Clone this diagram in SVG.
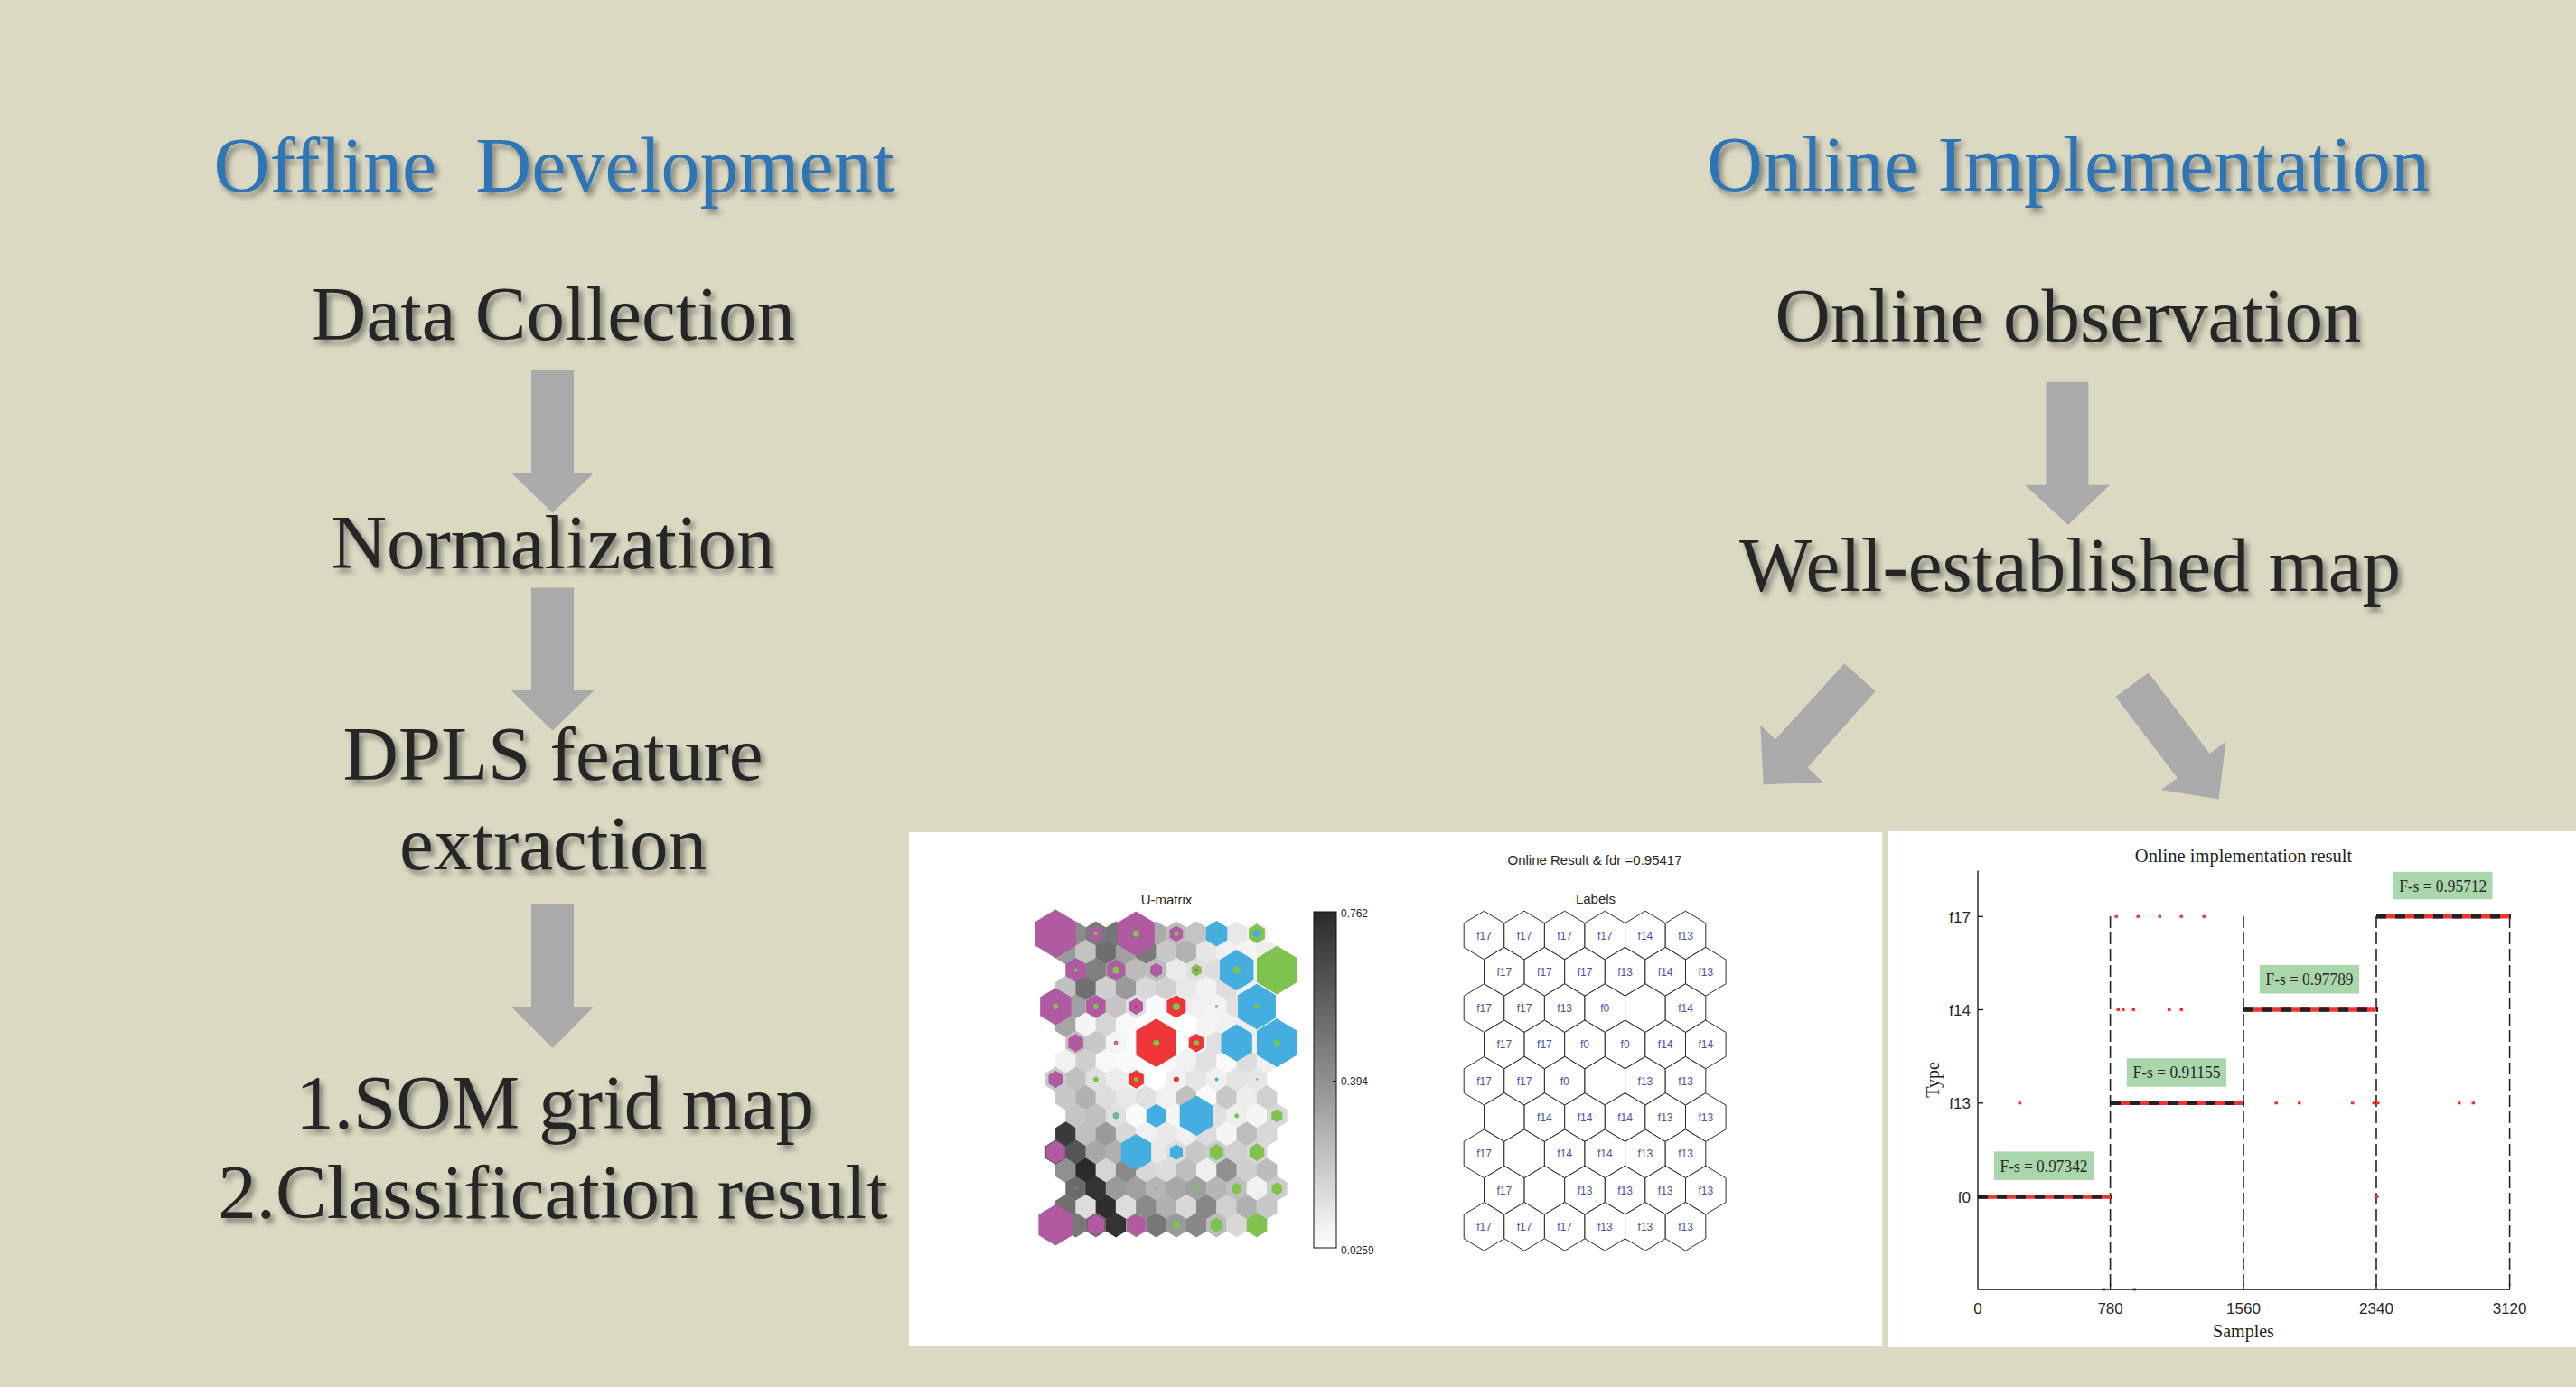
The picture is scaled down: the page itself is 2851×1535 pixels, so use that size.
<svg xmlns="http://www.w3.org/2000/svg" xmlns:xlink="http://www.w3.org/1999/xlink" width="2851" height="1535" viewBox="0 0 2851 1535">
<style>
.bg{fill:#DCD9C3}
.big{font-family:"Liberation Serif","Times New Roman",serif;font-size:85px;fill:#262626;text-anchor:middle}
.ttl{font-family:"Liberation Serif","Times New Roman",serif;font-size:86px;fill:#2E75B6;text-anchor:middle;white-space:pre}
.arr{fill:#AAAAAA}
.mg{fill:#B05AA2}.gn{fill:#80C24E}.bl{fill:#44AEE1}.rd{fill:#EE3537}
.sans{font-family:"Liberation Sans",Arial,sans-serif;fill:#262626}
.serif{font-family:"Liberation Serif","Times New Roman",serif;fill:#1e1e1e}
.hexL{fill:#fff;stroke:#2a2a2a;stroke-width:1}
.lab{font-family:"Liberation Sans",Arial,sans-serif;font-size:12px;fill:#4B50A8;text-anchor:middle}
.box{fill:#A9D6AA}
.fs{font-family:"Liberation Serif","Times New Roman",serif;font-size:18px;fill:#2a2a2a;text-anchor:middle}
.rdot{fill:#FF2A2A}
</style>
<defs>
<filter id="sh" x="-5%" y="-30%" width="115%" height="170%">
<feGaussianBlur in="SourceAlpha" stdDeviation="3"/>
<feOffset dx="4" dy="5" result="b"/>
<feFlood flood-color="#000" flood-opacity="0.42"/>
<feComposite in2="b" operator="in"/>
<feMerge><feMergeNode/><feMergeNode in="SourceGraphic"/></feMerge>
</filter>
<polygon id="u" points="0,-13.7 11.35,-6.8 11.35,6.8 0,13.7 -11.35,6.8 -11.35,-6.8"/>
<polygon id="m" points="0,-26.85 22.3,-13.4 22.3,13.4 0,26.85 -22.3,13.4 -22.3,-13.4"/>
<polygon id="L" points="0,-26.8 22.3,-13.4 22.3,13.4 0,26.8 -22.3,13.4 -22.3,-13.4"/>
<linearGradient id="cb" x1="0" y1="0" x2="0" y2="1">
<stop offset="0" stop-color="#2b2b2b"/><stop offset="0.5" stop-color="#8f8f8f"/><stop offset="1" stop-color="#ffffff"/>
</linearGradient>
</defs>
<rect class="bg" x="0" y="0" width="2851" height="1535"/>

<g id="title-offline" filter="url(#sh)"><text class="ttl" x="613" y="212">Offline  Development</text></g>
<g id="title-online" filter="url(#sh)"><text class="ttl" x="2289" y="211">Online Implementation</text></g>

<g id="node-data-collection" filter="url(#sh)"><text class="big" x="612" y="376">Data Collection</text></g>
<g id="node-normalization" filter="url(#sh)"><text class="big" x="612" y="629">Normalization</text></g>
<g id="node-dpls" filter="url(#sh)"><text class="big" x="612" y="863">DPLS feature</text><text class="big" x="612" y="962">extraction</text></g>
<g id="node-som-result" filter="url(#sh)"><text class="big" x="614" y="1249">1.SOM grid map</text><text class="big" x="612" y="1348">2.Classification result</text></g>
<g id="node-online-observation" filter="url(#sh)"><text class="big" x="2289" y="378">Online observation</text></g>
<g id="node-well-established-map" filter="url(#sh)"><text class="big" x="2291" y="654">Well-established map</text></g>

<g id="connectors">
<polygon class="arr" points="588,409 635,409 635,523 657.5,523 611.6,567.7 565.7,523 588,523"/>
<polygon class="arr" points="588,650.4 635,650.4 635,764 657.5,764 611.6,808.8 565.7,764 588,764"/>
<polygon class="arr" points="588,1001 635,1001 635,1114 657.5,1114 611.6,1160 565.7,1114 588,1114"/>
<polygon class="arr" points="2264.5,422.7 2311.4,422.7 2311.4,536.7 2335,536.7 2289,581 2241,536.7 2264.5,536.7"/>
<polygon class="arr" points="2041.3,734.3 2075.7,765 2000.7,849.3 2017.7,865.7 1951.7,868.3 1948.3,802.7 1965,818.3"/>
<polygon class="arr" points="2377.8,744.4 2445.6,833.9 2463.5,820.7 2455.5,884.5 2391.8,874 2409.8,860.9 2341.6,771"/>
</g>

<g id="node-panel-som">
<rect x="1006" y="921" width="1077.3" height="569" fill="#fff"/>
<text class="sans" x="1765" y="957" font-size="15" text-anchor="middle">Online Result &amp; fdr =0.95417</text>
<text class="sans" x="1291" y="1000.6" font-size="15" text-anchor="middle">U-matrix</text>
<text class="sans" x="1766" y="999.5" font-size="15" text-anchor="middle">Labels</text>
<g id="umatrix">
<g transform="translate(0,1033.3)"><use href="#u" x="1168.3" fill="#8c8c8c"/><use href="#u" x="1190.6" fill="#8a8a8a"/><use href="#u" x="1212.8" fill="#7a7a7a"/><use href="#u" x="1235.1" fill="#767676"/><use href="#u" x="1257.4" fill="#999"/><use href="#u" x="1279.7" fill="#ababab"/><use href="#u" x="1301.9" fill="#bdbdbd"/><use href="#u" x="1324.2" fill="#c4c4c4"/><use href="#u" x="1346.5" fill="#d8d8d8"/><use href="#u" x="1368.7" fill="#e8e8e8"/><use href="#u" x="1391" fill="#eee"/></g>
<g transform="translate(0,1053.5)"><use href="#u" x="1179.4" fill="#999"/><use href="#u" x="1201.7" fill="#c2c2c2"/><use href="#u" x="1224" fill="#6e6e6e"/><use href="#u" x="1246.2" fill="#a0a0a0"/><use href="#u" x="1268.5" fill="#7a7a7a"/><use href="#u" x="1290.8" fill="#c8c8c8"/><use href="#u" x="1313.1" fill="#b2b2b2"/><use href="#u" x="1335.3" fill="#e6e6e6"/><use href="#u" x="1357.6" fill="#f0f0f0"/><use href="#u" x="1379.9" fill="#f4f4f4"/><use href="#u" x="1402.1" fill="#eee"/></g>
<g transform="translate(0,1073.6)"><use href="#u" x="1190.6" fill="#888"/><use href="#u" x="1212.8" fill="#808080"/><use href="#u" x="1235.1" fill="#999"/><use href="#u" x="1257.4" fill="#bbb"/><use href="#u" x="1279.7" fill="#bdbdbd"/><use href="#u" x="1301.9" fill="#eaeaea"/><use href="#u" x="1324.2" fill="#e0e0e0"/><use href="#u" x="1346.5" fill="#ddd"/><use href="#u" x="1368.7" fill="#e8e8e8"/><use href="#u" x="1391" fill="#f0f0f0"/><use href="#u" x="1413.3" fill="#e0e0e0"/></g>
<g transform="translate(0,1093.8)"><use href="#u" x="1179.4" fill="#c0c0c0"/><use href="#u" x="1201.7" fill="#707070"/><use href="#u" x="1224" fill="#cfcfcf"/><use href="#u" x="1246.2" fill="#9a9a9a"/><use href="#u" x="1268.5" fill="#d8d8d8"/><use href="#u" x="1290.8" fill="#d0d0d0"/><use href="#u" x="1313.1" fill="#e8e8e8"/><use href="#u" x="1335.3" fill="#f2f2f2"/><use href="#u" x="1357.6" fill="#ddd"/><use href="#u" x="1379.9" fill="#f0f0f0"/><use href="#u" x="1402.1" fill="#eee"/></g>
<g transform="translate(0,1113.9)"><use href="#u" x="1168.3" fill="#aaa"/><use href="#u" x="1190.6" fill="#a0a0a0"/><use href="#u" x="1212.8" fill="#bbb"/><use href="#u" x="1235.1" fill="#c5c5c5"/><use href="#u" x="1257.4" fill="#e0e0e0"/><use href="#u" x="1279.7" fill="#fafafa"/><use href="#u" x="1301.9" fill="#f5f5f5"/><use href="#u" x="1324.2" fill="#f0f0f0"/><use href="#u" x="1346.5" fill="#f2f2f2"/><use href="#u" x="1368.7" fill="#e0e0e0"/><use href="#u" x="1391" fill="#e8e8e8"/></g>
<g transform="translate(0,1134.1)"><use href="#u" x="1179.4" fill="#a5a5a5"/><use href="#u" x="1201.7" fill="#f5f5f5"/><use href="#u" x="1224" fill="#d5d5d5"/><use href="#u" x="1246.2" fill="#f8f8f8"/><use href="#u" x="1268.5" fill="#fff"/><use href="#u" x="1290.8" fill="#fcfcfc"/><use href="#u" x="1313.1" fill="#fff"/><use href="#u" x="1335.3" fill="#f5f5f5"/><use href="#u" x="1357.6" fill="#f0f0f0"/><use href="#u" x="1379.9" fill="#eee"/><use href="#u" x="1402.1" fill="#e8e8e8"/></g>
<g transform="translate(0,1154.2)"><use href="#u" x="1190.6" fill="#c0c0c0"/><use href="#u" x="1212.8" fill="#c8c8c8"/><use href="#u" x="1235.1" fill="#f5f5f5"/><use href="#u" x="1257.4" fill="#fafafa"/><use href="#u" x="1279.7" fill="#fff"/><use href="#u" x="1301.9" fill="#fff"/><use href="#u" x="1324.2" fill="#f5f5f5"/><use href="#u" x="1346.5" fill="#e0e0e0"/><use href="#u" x="1368.7" fill="#e8e8e8"/><use href="#u" x="1391" fill="#f0f0f0"/><use href="#u" x="1413.3" fill="#e8e8e8"/></g>
<g transform="translate(0,1174.4)"><use href="#u" x="1179.4" fill="#f0f0f0"/><use href="#u" x="1201.7" fill="#cfcfcf"/><use href="#u" x="1224" fill="#f8f8f8"/><use href="#u" x="1246.2" fill="#fafafa"/><use href="#u" x="1268.5" fill="#fff"/><use href="#u" x="1290.8" fill="#fafafa"/><use href="#u" x="1313.1" fill="#f0f0f0"/><use href="#u" x="1335.3" fill="#e0e0e0"/><use href="#u" x="1357.6" fill="#fafafa"/><use href="#u" x="1379.9" fill="#dcdcdc"/><use href="#u" x="1402.1" fill="#f0f0f0"/></g>
<g transform="translate(0,1194.5)"><use href="#u" x="1168.3" fill="#c8c8c8"/><use href="#u" x="1190.6" fill="#c0c0c0"/><use href="#u" x="1212.8" fill="#e0e0e0"/><use href="#u" x="1235.1" fill="#ececec"/><use href="#u" x="1257.4" fill="#f0f0f0"/><use href="#u" x="1279.7" fill="#fff"/><use href="#u" x="1301.9" fill="#f0f0f0"/><use href="#u" x="1324.2" fill="#e5e5e5"/><use href="#u" x="1346.5" fill="#f0f0f0"/><use href="#u" x="1368.7" fill="#e3e3e3"/><use href="#u" x="1391" fill="#e6e6e6"/></g>
<g transform="translate(0,1214.7)"><use href="#u" x="1179.4" fill="#c8c8c8"/><use href="#u" x="1201.7" fill="#b0b0b0"/><use href="#u" x="1224" fill="#dcdcdc"/><use href="#u" x="1246.2" fill="#e8e8e8"/><use href="#u" x="1268.5" fill="#e0e0e0"/><use href="#u" x="1290.8" fill="#f0f0f0"/><use href="#u" x="1313.1" fill="#c0c0c0"/><use href="#u" x="1335.3" fill="#fafafa"/><use href="#u" x="1357.6" fill="#c8c8c8"/><use href="#u" x="1379.9" fill="#eee"/><use href="#u" x="1402.1" fill="#d0d0d0"/></g>
<g transform="translate(0,1234.8)"><use href="#u" x="1190.6" fill="#c5c5c5"/><use href="#u" x="1212.8" fill="#c0c0c0"/><use href="#u" x="1235.1" fill="#e0e0e0"/><use href="#u" x="1257.4" fill="#fafafa"/><use href="#u" x="1279.7" fill="#f0f0f0"/><use href="#u" x="1301.9" fill="#f5f5f5"/><use href="#u" x="1324.2" fill="#e8e8e8"/><use href="#u" x="1346.5" fill="#e0e0e0"/><use href="#u" x="1368.7" fill="#eee"/><use href="#u" x="1391" fill="#f5f5f5"/><use href="#u" x="1413.3" fill="#d8d8d8"/></g>
<g transform="translate(0,1255)"><use href="#u" x="1179.4" fill="#3a3a3a"/><use href="#u" x="1201.7" fill="#c0c0c0"/><use href="#u" x="1224" fill="#9a9a9a"/><use href="#u" x="1246.2" fill="#d8d8d8"/><use href="#u" x="1268.5" fill="#f0f0f0"/><use href="#u" x="1290.8" fill="#e8e8e8"/><use href="#u" x="1313.1" fill="#f0f0f0"/><use href="#u" x="1335.3" fill="#dcdcdc"/><use href="#u" x="1357.6" fill="#f5f5f5"/><use href="#u" x="1379.9" fill="#bdbdbd"/><use href="#u" x="1402.1" fill="#d8d8d8"/></g>
<g transform="translate(0,1275.1)"><use href="#u" x="1168.3" fill="#888"/><use href="#u" x="1190.6" fill="#555"/><use href="#u" x="1212.8" fill="#a8a8a8"/><use href="#u" x="1235.1" fill="#b0b0b0"/><use href="#u" x="1257.4" fill="#d0d0d0"/><use href="#u" x="1279.7" fill="#e8e8e8"/><use href="#u" x="1301.9" fill="#ddd"/><use href="#u" x="1324.2" fill="#c8c8c8"/><use href="#u" x="1346.5" fill="#ccc"/><use href="#u" x="1368.7" fill="#d0d0d0"/><use href="#u" x="1391" fill="#d8d8d8"/></g>
<g transform="translate(0,1295.3)"><use href="#u" x="1179.4" fill="#909090"/><use href="#u" x="1201.7" fill="#2a2a2a"/><use href="#u" x="1224" fill="#d5d5d5"/><use href="#u" x="1246.2" fill="#8a8a8a"/><use href="#u" x="1268.5" fill="#d8d8d8"/><use href="#u" x="1290.8" fill="#ddd"/><use href="#u" x="1313.1" fill="#bdbdbd"/><use href="#u" x="1335.3" fill="#efefef"/><use href="#u" x="1357.6" fill="#909090"/><use href="#u" x="1379.9" fill="#cfcfcf"/><use href="#u" x="1402.1" fill="#bcbcbc"/></g>
<g transform="translate(0,1315.4)"><use href="#u" x="1190.6" fill="#6a6a6a"/><use href="#u" x="1212.8" fill="#333"/><use href="#u" x="1235.1" fill="#9a9a9a"/><use href="#u" x="1257.4" fill="#a0a0a0"/><use href="#u" x="1279.7" fill="#b5b5b5"/><use href="#u" x="1301.9" fill="#a8a8a8"/><use href="#u" x="1324.2" fill="#a0a0a0"/><use href="#u" x="1346.5" fill="#b5b5b5"/><use href="#u" x="1368.7" fill="#c0c0c0"/><use href="#u" x="1391" fill="#f0f0f0"/><use href="#u" x="1413.3" fill="#ccc"/></g>
<g transform="translate(0,1335.6)"><use href="#u" x="1179.4" fill="#707070"/><use href="#u" x="1201.7" fill="#dcdcdc"/><use href="#u" x="1224" fill="#2e2e2e"/><use href="#u" x="1246.2" fill="#dcdcdc"/><use href="#u" x="1268.5" fill="#8a8a8a"/><use href="#u" x="1290.8" fill="#b0b0b0"/><use href="#u" x="1313.1" fill="#d8d8d8"/><use href="#u" x="1335.3" fill="#888"/><use href="#u" x="1357.6" fill="#d0d0d0"/><use href="#u" x="1379.9" fill="#b0b0b0"/><use href="#u" x="1402.1" fill="#c8c8c8"/></g>
<g transform="translate(0,1355.7)"><use href="#u" x="1168.3" fill="#888"/><use href="#u" x="1190.6" fill="#777"/><use href="#u" x="1212.8" fill="#888"/><use href="#u" x="1235.1" fill="#333"/><use href="#u" x="1257.4" fill="#999"/><use href="#u" x="1279.7" fill="#777"/><use href="#u" x="1301.9" fill="#9a9a9a"/><use href="#u" x="1324.2" fill="#888"/><use href="#u" x="1346.5" fill="#bbb"/><use href="#u" x="1368.7" fill="#d8d8d8"/><use href="#u" x="1391" fill="#ccc"/></g>
</g>
<g id="umatrix-markers">
<use href="#m" class="mg" transform="translate(1168.3,1033.3)"/>
<use href="#m" class="mg" transform="translate(1212.8,1033.3) scale(0.33)"/><circle class="gn" cx="1212.8" cy="1033.3" r="2"/>
<use href="#m" class="mg" transform="translate(1257.4,1033.3) scale(0.92)"/><circle class="gn" cx="1257.4" cy="1033.3" r="3.5"/>
<use href="#m" class="mg" transform="translate(1301.9,1033.3) scale(0.33)"/><circle class="gn" cx="1301.9" cy="1033.3" r="2.5"/>
<use href="#m" class="bl" transform="translate(1346.5,1033.3) scale(0.53)"/><circle class="gn" cx="1346.5" cy="1033.3" r="1.2"/>
<use href="#m" class="gn" transform="translate(1391,1033.3) scale(0.4)"/><circle class="bl" cx="1391" cy="1033.3" r="4"/>
<use href="#m" class="mg" transform="translate(1190.6,1073.6) scale(0.49)"/><circle class="gn" cx="1190.6" cy="1073.6" r="2"/>
<use href="#m" class="mg" transform="translate(1235.1,1073.6) scale(0.43)"/><circle class="gn" cx="1235.1" cy="1073.6" r="4"/>
<use href="#m" class="mg" transform="translate(1279.7,1073.6) scale(0.29)"/>
<use href="#m" class="gn" transform="translate(1324.2,1073.6) scale(0.25)"/><circle class="mg" cx="1324.2" cy="1073.6" r="2"/>
<use href="#m" class="bl" transform="translate(1368.7,1073.6) scale(0.84)"/><circle class="gn" cx="1368.7" cy="1073.6" r="4"/>
<use href="#m" class="gn" transform="translate(1413.3,1073.6)"/>
<use href="#m" class="mg" transform="translate(1168.3,1113.9) scale(0.77)"/><circle class="gn" cx="1168.3" cy="1113.9" r="3"/>
<use href="#m" class="mg" transform="translate(1212.8,1113.9) scale(0.48)"/><circle class="gn" cx="1212.8" cy="1113.9" r="3"/>
<use href="#m" class="mg" transform="translate(1257.4,1113.9) scale(0.34)"/><circle class="rd" cx="1257.4" cy="1113.9" r="2"/>
<use href="#m" class="rd" transform="translate(1301.9,1113.9) scale(0.47)"/><circle class="gn" cx="1301.9" cy="1113.9" r="4"/>
<circle class="gn" cx="1346.5" cy="1113.9" r="1.8"/>
<use href="#m" class="bl" transform="translate(1391,1113.9) scale(0.94)"/><circle class="gn" cx="1391" cy="1113.9" r="3"/>
<use href="#m" class="mg" transform="translate(1190.6,1154.2) scale(0.37)"/>
<use href="#m" class="mg" transform="translate(1235.1,1154.2) scale(0.1)"/><circle class="gn" cx="1235.1" cy="1154.2" r="1"/>
<use href="#m" class="rd" transform="translate(1279.7,1154.2)"/><circle class="gn" cx="1279.7" cy="1154.2" r="3.5"/>
<use href="#m" class="rd" transform="translate(1324.2,1154.2) scale(0.38)"/><circle class="gn" cx="1324.2" cy="1154.2" r="3"/>
<use href="#m" class="bl" transform="translate(1368.7,1154.2) scale(0.77)"/>
<use href="#m" class="bl" transform="translate(1413.3,1154.2)"/><circle class="gn" cx="1413.3" cy="1154.2" r="3.5"/>
<use href="#m" class="mg" transform="translate(1168.3,1194.5) scale(0.35)"/>
<circle class="gn" cx="1212.8" cy="1194.5" r="3"/>
<use href="#m" class="rd" transform="translate(1257.4,1194.5) scale(0.38)"/><circle class="gn" cx="1257.4" cy="1194.5" r="2.5"/>
<circle class="rd" cx="1301.9" cy="1194.5" r="3"/>
<circle class="bl" cx="1346.5" cy="1194.5" r="2"/>
<circle class="gn" cx="1391" cy="1194.5" r="1.3"/>
<use href="#m" class="bl" transform="translate(1235.1,1234.8) scale(0.15)"/><circle class="gn" cx="1235.1" cy="1234.8" r="2.5"/>
<use href="#m" class="bl" transform="translate(1279.7,1234.8) scale(0.49)"/>
<use href="#m" class="bl" transform="translate(1324.2,1234.8) scale(0.83)"/>
<circle class="gn" cx="1368.7" cy="1234.8" r="2.5"/>
<use href="#m" class="gn" transform="translate(1413.3,1234.8) scale(0.27)"/>
<use href="#m" class="mg" transform="translate(1168.3,1275.1) scale(0.49)" stroke="#444" stroke-width="1.5"/>
<use href="#m" class="bl" transform="translate(1257.4,1275.1) scale(0.75)"/>
<use href="#m" class="bl" transform="translate(1301.9,1275.1) scale(0.32)"/>
<use href="#m" class="gn" transform="translate(1346.5,1275.1) scale(0.34)"/>
<use href="#m" class="gn" transform="translate(1391,1275.1) scale(0.37)"/>
<circle class="mg" cx="1190.6" cy="1315.4" r="1.7"/>
<circle class="gn" cx="1279.7" cy="1315.4" r="1.5"/>
<circle class="gn" cx="1324.2" cy="1315.4" r="2.3"/>
<use href="#m" class="gn" transform="translate(1368.7,1315.4) scale(0.24)"/>
<use href="#m" class="gn" transform="translate(1413.3,1315.4) scale(0.26)"/>
<use href="#m" class="mg" transform="translate(1168.3,1355.7) scale(0.85)"/>
<use href="#m" class="mg" transform="translate(1212.8,1355.7) scale(0.45)" stroke="#444" stroke-width="1.5"/>
<use href="#m" class="mg" transform="translate(1257.4,1355.7) scale(0.46)"/>
<circle class="gn" cx="1301.9" cy="1355.7" r="4"/>
<use href="#m" class="gn" transform="translate(1346.5,1355.7) scale(0.3)"/>
<use href="#m" class="gn" transform="translate(1391,1355.7) scale(0.5)"/>
</g>
<g id="colorbar">
<rect x="1454" y="1009" width="25" height="372" fill="url(#cb)" stroke="#111" stroke-width="1"/>
<line x1="1479" y1="1196.5" x2="1475" y2="1196.5" stroke="#111" stroke-width="1"/>
<text class="sans" x="1484" y="1014.5" font-size="12">0.762</text>
<text class="sans" x="1484" y="1201" font-size="12">0.394</text>
<text class="sans" x="1484" y="1387.5" font-size="12">0.0259</text>
</g>
<g id="labels-map">
<g transform="translate(0,1035)"><use href="#L" class="hexL" x="1642.5"/><use href="#L" class="hexL" x="1687.1"/><use href="#L" class="hexL" x="1731.7"/><use href="#L" class="hexL" x="1776.3"/><use href="#L" class="hexL" x="1820.9"/><use href="#L" class="hexL" x="1865.5"/>
<text class="lab" x="1642.5" y="4.5">f17</text><text class="lab" x="1687.1" y="4.5">f17</text><text class="lab" x="1731.7" y="4.5">f17</text><text class="lab" x="1776.3" y="4.5">f17</text><text class="lab" x="1820.9" y="4.5">f14</text><text class="lab" x="1865.5" y="4.5">f13</text></g>
<g transform="translate(0,1075.3)"><use href="#L" class="hexL" x="1664.8"/><use href="#L" class="hexL" x="1709.4"/><use href="#L" class="hexL" x="1754"/><use href="#L" class="hexL" x="1798.6"/><use href="#L" class="hexL" x="1843.2"/><use href="#L" class="hexL" x="1887.8"/>
<text class="lab" x="1664.8" y="4.5">f17</text><text class="lab" x="1709.4" y="4.5">f17</text><text class="lab" x="1754" y="4.5">f17</text><text class="lab" x="1798.6" y="4.5">f13</text><text class="lab" x="1843.2" y="4.5">f14</text><text class="lab" x="1887.8" y="4.5">f13</text></g>
<g transform="translate(0,1115.6)"><use href="#L" class="hexL" x="1642.5"/><use href="#L" class="hexL" x="1687.1"/><use href="#L" class="hexL" x="1731.7"/><use href="#L" class="hexL" x="1776.3"/><use href="#L" class="hexL" x="1820.9"/><use href="#L" class="hexL" x="1865.5"/>
<text class="lab" x="1642.5" y="4.5">f17</text><text class="lab" x="1687.1" y="4.5">f17</text><text class="lab" x="1731.7" y="4.5">f13</text><text class="lab" x="1776.3" y="4.5">f0</text><text class="lab" x="1865.5" y="4.5">f14</text></g>
<g transform="translate(0,1155.9)"><use href="#L" class="hexL" x="1664.8"/><use href="#L" class="hexL" x="1709.4"/><use href="#L" class="hexL" x="1754"/><use href="#L" class="hexL" x="1798.6"/><use href="#L" class="hexL" x="1843.2"/><use href="#L" class="hexL" x="1887.8"/>
<text class="lab" x="1664.8" y="4.5">f17</text><text class="lab" x="1709.4" y="4.5">f17</text><text class="lab" x="1754" y="4.5">f0</text><text class="lab" x="1798.6" y="4.5">f0</text><text class="lab" x="1843.2" y="4.5">f14</text><text class="lab" x="1887.8" y="4.5">f14</text></g>
<g transform="translate(0,1196.2)"><use href="#L" class="hexL" x="1642.5"/><use href="#L" class="hexL" x="1687.1"/><use href="#L" class="hexL" x="1731.7"/><use href="#L" class="hexL" x="1776.3"/><use href="#L" class="hexL" x="1820.9"/><use href="#L" class="hexL" x="1865.5"/>
<text class="lab" x="1642.5" y="4.5">f17</text><text class="lab" x="1687.1" y="4.5">f17</text><text class="lab" x="1731.7" y="4.5">f0</text><text class="lab" x="1820.9" y="4.5">f13</text><text class="lab" x="1865.5" y="4.5">f13</text></g>
<g transform="translate(0,1236.5)"><use href="#L" class="hexL" x="1664.8"/><use href="#L" class="hexL" x="1709.4"/><use href="#L" class="hexL" x="1754"/><use href="#L" class="hexL" x="1798.6"/><use href="#L" class="hexL" x="1843.2"/><use href="#L" class="hexL" x="1887.8"/>
<text class="lab" x="1709.4" y="4.5">f14</text><text class="lab" x="1754" y="4.5">f14</text><text class="lab" x="1798.6" y="4.5">f14</text><text class="lab" x="1843.2" y="4.5">f13</text><text class="lab" x="1887.8" y="4.5">f13</text></g>
<g transform="translate(0,1276.8)"><use href="#L" class="hexL" x="1642.5"/><use href="#L" class="hexL" x="1687.1"/><use href="#L" class="hexL" x="1731.7"/><use href="#L" class="hexL" x="1776.3"/><use href="#L" class="hexL" x="1820.9"/><use href="#L" class="hexL" x="1865.5"/>
<text class="lab" x="1642.5" y="4.5">f17</text><text class="lab" x="1731.7" y="4.5">f14</text><text class="lab" x="1776.3" y="4.5">f14</text><text class="lab" x="1820.9" y="4.5">f13</text><text class="lab" x="1865.5" y="4.5">f13</text></g>
<g transform="translate(0,1317.1)"><use href="#L" class="hexL" x="1664.8"/><use href="#L" class="hexL" x="1709.4"/><use href="#L" class="hexL" x="1754"/><use href="#L" class="hexL" x="1798.6"/><use href="#L" class="hexL" x="1843.2"/><use href="#L" class="hexL" x="1887.8"/>
<text class="lab" x="1664.8" y="4.5">f17</text><text class="lab" x="1754" y="4.5">f13</text><text class="lab" x="1798.6" y="4.5">f13</text><text class="lab" x="1843.2" y="4.5">f13</text><text class="lab" x="1887.8" y="4.5">f13</text></g>
<g transform="translate(0,1357.4)"><use href="#L" class="hexL" x="1642.5"/><use href="#L" class="hexL" x="1687.1"/><use href="#L" class="hexL" x="1731.7"/><use href="#L" class="hexL" x="1776.3"/><use href="#L" class="hexL" x="1820.9"/><use href="#L" class="hexL" x="1865.5"/>
<text class="lab" x="1642.5" y="4.5">f17</text><text class="lab" x="1687.1" y="4.5">f17</text><text class="lab" x="1731.7" y="4.5">f17</text><text class="lab" x="1776.3" y="4.5">f13</text><text class="lab" x="1820.9" y="4.5">f13</text><text class="lab" x="1865.5" y="4.5">f13</text></g>
</g>
</g>

<g id="node-panel-chart">
<rect x="2089" y="920" width="762" height="571" fill="#fff"/>
<text class="serif" x="2483" y="954" font-size="20.5" text-anchor="middle">Online implementation result</text>
<g id="chart-lines">
<g stroke="#222" stroke-width="1.6" stroke-dasharray="13 5" fill="none">
<line x1="2335.6" y1="1014" x2="2335.6" y2="1427"/>
<line x1="2483" y1="1014" x2="2483" y2="1427"/>
<line x1="2630" y1="1014" x2="2630" y2="1427"/>
<line x1="2777.6" y1="1014" x2="2777.6" y2="1427"/>
</g>
<g stroke-width="4.5" fill="none">
<line x1="2189" y1="1324.4" x2="2337" y2="1324.4" stroke="#F03434"/>
<line x1="2336" y1="1220.8" x2="2484" y2="1220.8" stroke="#F03434"/>
<line x1="2483" y1="1117.5" x2="2632" y2="1117.5" stroke="#F03434"/>
<line x1="2630" y1="1014.3" x2="2779" y2="1014.3" stroke="#F03434"/>
<g stroke="#222" stroke-dasharray="11 10">
<line x1="2189" y1="1324.4" x2="2337" y2="1324.4"/>
<line x1="2336" y1="1220.8" x2="2484" y2="1220.8"/>
<line x1="2483" y1="1117.5" x2="2632" y2="1117.5"/>
<line x1="2630" y1="1014.3" x2="2779" y2="1014.3"/>
</g>
</g>
<g class="rdot">
<rect x="2340.5" y="1012.8" width="3.5" height="3"/><rect x="2364.5" y="1012.8" width="3.5" height="3"/><rect x="2388.5" y="1012.8" width="3.5" height="3"/><rect x="2412.5" y="1012.8" width="3.5" height="3"/><rect x="2437.5" y="1012.8" width="3.5" height="3"/>
<rect x="2342.5" y="1116" width="3.5" height="3"/><rect x="2348" y="1116" width="3.5" height="3"/><rect x="2359.5" y="1116" width="3.5" height="3"/><rect x="2399" y="1116" width="3.5" height="3"/><rect x="2412.5" y="1116" width="3.5" height="3"/>
<rect x="2233.5" y="1219.3" width="3.5" height="3"/><rect x="2517.5" y="1219.3" width="3.5" height="3"/><rect x="2543" y="1219.3" width="3.5" height="3"/><rect x="2602" y="1219.3" width="3.5" height="3"/><rect x="2625.5" y="1219.3" width="3.5" height="3"/><rect x="2630" y="1219.3" width="3.5" height="3"/><rect x="2720" y="1219.3" width="3.5" height="3"/><rect x="2735.5" y="1219.3" width="3.5" height="3"/>
<rect x="2629" y="1323" width="3.5" height="3"/>
<rect x="2326.5" y="1425.5" width="3.5" height="3"/><rect x="2360.5" y="1425.5" width="3.5" height="3"/>
</g>
</g>
<g id="axes" stroke="#111" stroke-width="1.3" fill="none">
<polyline points="2189,963.6 2189,1427 2778,1427"/>
<line x1="2189" y1="1014.3" x2="2195" y2="1014.3"/><line x1="2189" y1="1117.5" x2="2195" y2="1117.5"/><line x1="2189" y1="1220.8" x2="2195" y2="1220.8"/><line x1="2189" y1="1324.4" x2="2195" y2="1324.4"/>
<line x1="2335.6" y1="1427" x2="2335.6" y2="1421"/><line x1="2483" y1="1427" x2="2483" y2="1421"/><line x1="2630" y1="1427" x2="2630" y2="1421"/><line x1="2777.6" y1="1427" x2="2777.6" y2="1421"/>
</g>
<g class="sans" font-size="17">
<text x="2181" y="1020.5" text-anchor="end">f17</text>
<text x="2181" y="1123.7" text-anchor="end">f14</text>
<text x="2181" y="1227" text-anchor="end">f13</text>
<text x="2181" y="1330.6" text-anchor="end">f0</text>
<text x="2189" y="1453.5" text-anchor="middle">0</text>
<text x="2335.6" y="1453.5" text-anchor="middle">780</text>
<text x="2483" y="1453.5" text-anchor="middle">1560</text>
<text x="2630" y="1453.5" text-anchor="middle">2340</text>
<text x="2777.6" y="1453.5" text-anchor="middle">3120</text>
</g>
<text class="serif" x="2483" y="1480" font-size="20" text-anchor="middle">Samples</text>
<text class="serif" transform="translate(2146,1195) rotate(-90)" font-size="20" text-anchor="middle">Type</text>
<g id="fs-boxes">
<rect class="box" x="2206.8" y="1274.4" width="110.2" height="31.5"/><text class="fs" x="2262" y="1296.5" textLength="97" lengthAdjust="spacingAndGlyphs">F-s = 0.97342</text>
<rect class="box" x="2353.8" y="1171.2" width="110.2" height="31.5"/><text class="fs" x="2409" y="1193.3" textLength="97" lengthAdjust="spacingAndGlyphs">F-s = 0.91155</text>
<rect class="box" x="2500.8" y="1068" width="110.2" height="31.5"/><text class="fs" x="2556" y="1090" textLength="97" lengthAdjust="spacingAndGlyphs">F-s = 0.97789</text>
<rect class="box" x="2648.8" y="964.8" width="109.7" height="30.5"/><text class="fs" x="2703.7" y="986.5" textLength="97" lengthAdjust="spacingAndGlyphs">F-s = 0.95712</text>
</g>
</g>
</svg>
